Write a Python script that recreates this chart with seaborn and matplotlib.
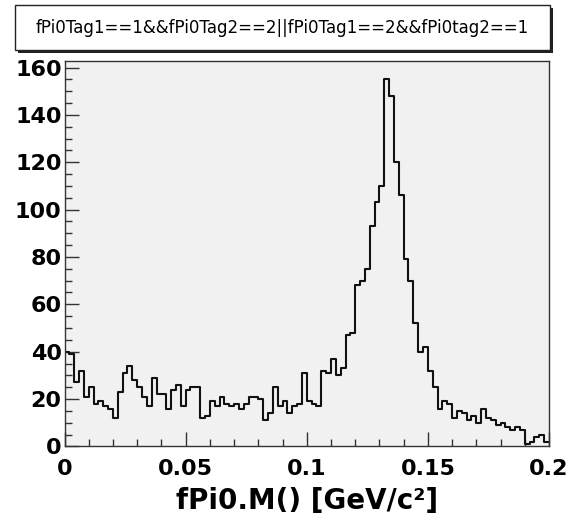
"""
ROOT-style pi0 invariant mass histogram, redrawn with seaborn.
"""

import matplotlib
matplotlib.use("Agg")
import matplotlib.pyplot as plt
import numpy as np
import pandas as pd
import seaborn as sns
from matplotlib.patches import Rectangle
from matplotlib.ticker import MultipleLocator

# histogram definition: 100 bins over [0, 0.2] GeV/c^2
mass_range = (0.0, 0.2)
n_bins = 100

# entries per bin (left to right)
entries = [
    40, 39, 27, 32, 21, 25, 18, 19, 17, 16,
    12, 23, 31, 34, 28, 25, 21, 17, 29, 22,
    22, 16, 24, 26, 17, 24, 25, 25, 12, 13,
    19, 17, 21, 18, 17, 18, 16, 18, 21, 21,
    20, 11, 14, 25, 17, 19, 14, 17, 18, 31,
    19, 18, 17, 32, 31, 37, 30, 33, 47, 48,
    68, 70, 75, 93, 103, 110, 155, 148, 120, 106,
    79, 70, 52, 40, 42, 32, 25, 16, 19, 18,
    12, 15, 14, 11, 13, 10, 16, 12, 11, 9,
    10, 8, 7, 8, 7, 1, 2, 4, 5, 2,
]

title_text = "fPi0Tag1==1&&fPi0Tag2==2||fPi0Tag1==2&&fPi0tag2==1"
x_label = "fPi0.M() [GeV/c²]"
x_ticks = [0.0, 0.05, 0.1, 0.15, 0.2]
x_tick_labels = ["0", "0.05", "0.1", "0.15", "0.2"]
y_ticks = [0, 20, 40, 60, 80, 100, 120, 140, 160]

W, H = 572, 527

sns.set_style("ticks")
plt.rcParams["font.family"] = ["DejaVu Sans"]

width = (mass_range[1] - mass_range[0]) / n_bins
df = pd.DataFrame({
    "mass": mass_range[0] + (np.arange(n_bins) + 0.5) * width,
    "entries": entries,
})

fig = plt.figure(figsize=(W / 100, H / 100), dpi=100, facecolor="white")
ax = fig.add_axes([64.5 / W, 1 - 446.4 / H, (549 - 64.5) / W, (446.4 - 61) / H])
ax.set_facecolor("#f1f1f1")

sns.histplot(
    data=df, x="mass", weights="entries",
    bins=n_bins, binrange=mass_range,
    element="step", fill=False,
    color="#111111", linewidth=1.5, ax=ax,
)

ax.set_xlim(*mass_range)
ax.set_ylim(0, max(entries) * 1.05)
ax.set_xticks(x_ticks)
ax.set_xticklabels(x_tick_labels)
ax.set_yticks(y_ticks)
ax.xaxis.set_minor_locator(MultipleLocator(0.01))
ax.yaxis.set_minor_locator(MultipleLocator(5))

for side in ["left", "right", "top", "bottom"]:
    ax.spines[side].set_visible(True)
    ax.spines[side].set_color("#333333")
    ax.spines[side].set_linewidth(1.0)

ax.tick_params(which="both", direction="in", color="#333333", width=1.0,
               labelcolor="black", top=False, right=False)
ax.tick_params(which="major", length=10)
ax.tick_params(which="minor", length=5)
ax.tick_params(axis="y", which="major", pad=2, labelsize=16)
ax.tick_params(axis="x", which="major", pad=9, labelsize=16)
for lab in ax.get_xticklabels() + ax.get_yticklabels():
    lab.set_fontweight("bold")

ax.set_ylabel("")
ax.set_xlabel(x_label, fontsize=20, fontweight="bold", labelpad=6, color="black")

# title pave with drop shadow
x0, x1, y0, y1 = 15, 550, 5, 50
fig.add_artist(Rectangle(((x0 + 3) / W, 1 - (y1 + 3) / H), (x1 - x0) / W, (y1 - y0) / H,
                         transform=fig.transFigure, facecolor="#222222",
                         edgecolor="none", zorder=1))
fig.add_artist(Rectangle((x0 / W, 1 - y1 / H), (x1 - x0) / W, (y1 - y0) / H,
                         transform=fig.transFigure, facecolor="white",
                         edgecolor="#222222", linewidth=1.0, zorder=2))
fig.text((x0 + x1) / 2 / W, 1 - (y0 + y1) / 2 / H, title_text,
         ha="center", va="center", fontsize=12, color="black", zorder=3)

fig.savefig("out.png", dpi=100, facecolor="white")
